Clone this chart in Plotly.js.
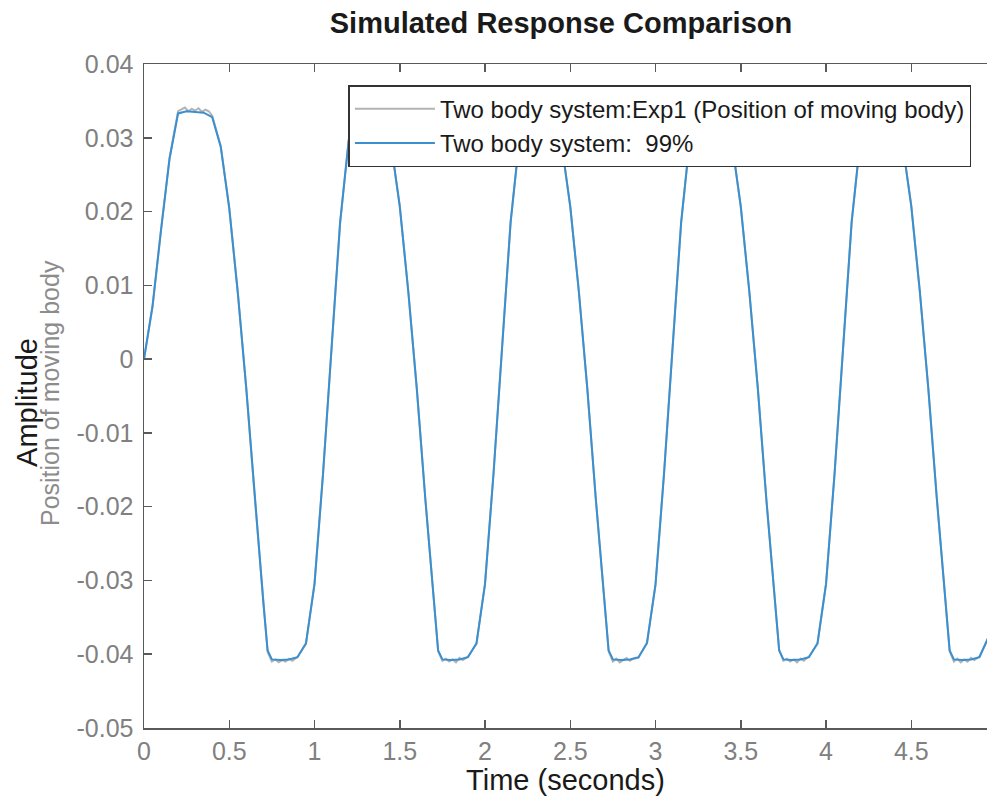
<!DOCTYPE html>
<html>
<head>
<meta charset="utf-8">
<script src="https://cdn.plot.ly/plotly-3.0.1.min.js"></script>
<style>html,body{margin:0;padding:0;background:#fff;}#chart{width:987px;height:800px;}</style>
</head>
<body>
<div id="chart"></div>
<script>
// Simulated model response (blue)
var tSim = [0,0.025,0.05,0.1,0.15,0.2,0.25,0.3,0.35,0.4,0.45,0.5,0.55,0.6,0.65,0.7,0.725,0.75,0.8,0.85,0.9,0.95,
  1.0,1.05,1.1,1.15,1.2,1.225,1.25,1.3,1.35,1.4,1.45,1.5,1.55,1.6,1.65,1.7,1.725,1.75,1.8,1.85,1.9,1.95,
  2.0,2.05,2.1,2.15,2.2,2.225,2.25,2.3,2.35,2.4,2.45,2.5,2.55,2.6,2.65,2.7,2.725,2.75,2.8,2.85,2.9,2.95,
  3.0,3.05,3.1,3.15,3.2,3.225,3.25,3.3,3.35,3.4,3.45,3.5,3.55,3.6,3.65,3.7,3.725,3.75,3.8,3.85,3.9,3.95,
  4.0,4.05,4.1,4.15,4.2,4.225,4.25,4.3,4.35,4.4,4.45,4.5,4.55,4.6,4.65,4.7,4.725,4.75,4.8,4.85,4.9,4.95];
var ySim = [0,0.0035,0.0072,0.0175,0.0272,0.0333,0.0336,0.0335,0.0334,0.0328,0.0288,0.0205,0.009,-0.004,-0.019,-0.033,-0.0395,-0.0407,-0.0408,-0.0407,-0.0404,-0.0385,
  -0.0305,-0.0155,0.0015,0.0185,0.0295,0.0328,0.0336,0.0337,0.0336,0.0330,0.0290,0.0207,0.0092,-0.0040,-0.0190,-0.0330,-0.0395,-0.0407,-0.0408,-0.0407,-0.0404,-0.0385,
  -0.0305,-0.0155,0.0015,0.0185,0.0295,0.0328,0.0336,0.0337,0.0336,0.0330,0.0290,0.0207,0.0092,-0.0040,-0.0190,-0.0330,-0.0395,-0.0407,-0.0408,-0.0407,-0.0404,-0.0385,
  -0.0305,-0.0155,0.0015,0.0185,0.0295,0.0328,0.0336,0.0337,0.0336,0.0330,0.0290,0.0207,0.0092,-0.0040,-0.0190,-0.0330,-0.0395,-0.0407,-0.0408,-0.0407,-0.0404,-0.0385,
  -0.0305,-0.0155,0.0015,0.0185,0.0295,0.0328,0.0336,0.0337,0.0336,0.0330,0.0290,0.0207,0.0092,-0.0040,-0.0190,-0.0330,-0.0395,-0.0407,-0.0408,-0.0407,-0.0404,-0.0378];

// Measured experiment data (gray), slightly noisy on the plateaus
var tMeas = [0,0.025,0.05,0.1,0.15,0.2,0.22,0.24,0.26,0.28,0.3,0.32,0.34,0.36,0.38,0.4,0.45,0.5,0.55,0.6,0.65,0.7,0.725,0.75,0.77,0.79,0.81,0.83,0.85,0.87,0.9,0.95,
  1.0,1.05,1.1,1.15,1.2,1.225,1.25,1.3,1.35,1.4,1.45,1.5,1.55,1.6,1.65,1.7,1.725,1.75,1.77,1.79,1.81,1.83,1.85,1.87,1.9,1.95,
  2.0,2.05,2.1,2.15,2.2,2.225,2.25,2.3,2.35,2.4,2.45,2.5,2.55,2.6,2.65,2.7,2.725,2.75,2.77,2.79,2.81,2.83,2.85,2.87,2.9,2.95,
  3.0,3.05,3.1,3.15,3.2,3.225,3.25,3.3,3.35,3.4,3.45,3.5,3.55,3.6,3.65,3.7,3.725,3.75,3.77,3.79,3.81,3.83,3.85,3.87,3.9,3.95,
  4.0,4.05,4.1,4.15,4.2,4.225,4.25,4.3,4.35,4.4,4.45,4.5,4.55,4.6,4.65,4.7,4.725,4.75,4.77,4.79,4.81,4.83,4.85,4.87,4.9,4.95];
var yMeas = [0,0.0034,0.0071,0.0176,0.0273,0.0336,0.0338,0.0341,0.0336,0.0339,0.0337,0.0340,0.0335,0.0338,0.0336,0.0330,0.0289,0.0204,0.0091,-0.0041,-0.0189,-0.0331,-0.0397,-0.0410,-0.0407,-0.0411,-0.0408,-0.0410,-0.0406,-0.0409,-0.0404,-0.0386,
  -0.0304,-0.0156,0.0016,0.0184,0.0296,0.0329,0.0338,0.0336,0.0339,0.0331,0.0289,0.0208,0.0091,-0.0041,-0.0189,-0.0331,-0.0396,-0.0409,-0.0406,-0.0410,-0.0407,-0.0411,-0.0405,-0.0408,-0.0403,-0.0386,
  -0.0304,-0.0154,0.0014,0.0186,0.0294,0.0329,0.0337,0.0339,0.0335,0.0331,0.0291,0.0206,0.0093,-0.0041,-0.0191,-0.0329,-0.0396,-0.0410,-0.0406,-0.0411,-0.0408,-0.0405,-0.0409,-0.0406,-0.0405,-0.0384,
  -0.0306,-0.0154,0.0016,0.0184,0.0296,0.0327,0.0338,0.0336,0.0338,0.0329,0.0291,0.0206,0.0091,-0.0039,-0.0191,-0.0331,-0.0394,-0.0409,-0.0406,-0.0410,-0.0407,-0.0411,-0.0406,-0.0409,-0.0403,-0.0386,
  -0.0304,-0.0156,0.0014,0.0186,0.0294,0.0329,0.0337,0.0339,0.0335,0.0331,0.0289,0.0208,0.0091,-0.0041,-0.0189,-0.0331,-0.0396,-0.0410,-0.0406,-0.0411,-0.0407,-0.0410,-0.0405,-0.0408,-0.0403,-0.0379];

var xTickVals = [0,0.5,1,1.5,2,2.5,3,3.5,4,4.5];
var xTickText = ['0','0.5','1','1.5','2','2.5','3','3.5','4','4.5'];
var yTickVals = [0.04,0.03,0.02,0.01,0,-0.01,-0.02,-0.03,-0.04,-0.05];
var yTickText = ['0.04','0.03','0.02','0.01','0','-0.01','-0.02','-0.03','-0.04','-0.05'];

var traceNames = ['Two body system:Exp1 (Position of moving body)', 'Two body system:  99%'];
var yTitleMain = 'Amplitude';
var yTitleSub = 'Position of moving body';

var FONT = 'Liberation Sans, Arial, Helvetica, sans-serif';
var AX = '#5a5a5a';

var data = [
  {x: tMeas, y: yMeas, type: 'scatter', mode: 'lines', name: traceNames[0],
   line: {color: '#b3b3b3', width: 2}},
  {x: tSim, y: ySim, type: 'scatter', mode: 'lines', name: traceNames[1],
   line: {color: '#3a8fd0', width: 2}}
];

var layout = {
  width: 987, height: 800,
  margin: {l: 144, r: 0, t: 64, b: 72},
  paper_bgcolor: '#fff', plot_bgcolor: '#fff',
  font: {family: FONT, color: '#808080'},
  title: {text: '<b>Simulated Response Comparison</b>', font: {family: FONT, size: 29, color: '#1a1a1a'},
          x: 0.5684, xanchor: 'center', y: 0.972, yanchor: 'middle'},
  xaxis: {range: [0, 4.944], tickvals: xTickVals, ticktext: xTickText,
          showline: true, linecolor: AX, linewidth: 1.5, mirror: 'ticks',
          ticks: 'inside', ticklen: 8, tickcolor: AX, tickwidth: 1.5,
          showgrid: false, zeroline: false,
          tickfont: {family: FONT, size: 25, color: '#808080'},
          title: {text: 'Time (seconds)', font: {family: FONT, size: 29, color: '#1a1a1a'}, standoff: 0}},
  yaxis: {range: [-0.05, 0.04], tickvals: yTickVals, ticktext: yTickText,
          showline: true, linecolor: AX, linewidth: 1.5, mirror: false,
          ticks: 'inside', ticklen: 8, tickcolor: AX, tickwidth: 1.5,
          showgrid: false, zeroline: false, ticklabelstandoff: 4,
          tickfont: {family: FONT, size: 25, color: '#808080'}},
  annotations: [
    {text: yTitleMain, xref: 'paper', yref: 'paper', x: -0.1388, y: 0.491, xanchor: 'center', yanchor: 'middle',
     textangle: -90, showarrow: false, font: {family: FONT, size: 29, color: '#1a1a1a'}},
    {text: yTitleSub, xref: 'paper', yref: 'paper', x: -0.1115, y: 0.5045, xanchor: 'center', yanchor: 'middle',
     textangle: -90, showarrow: false, font: {family: FONT, size: 25, color: '#8c8c8c'}}
  ],
  showlegend: true,
  legend: {x: 0.2425, y: 0.968, xanchor: 'left', yanchor: 'top',
           bgcolor: '#fff', bordercolor: '#333', borderwidth: 1.5,
           font: {family: FONT, size: 24, color: '#1a1a1a'},
           itemwidth: 80, tracegroupgap: 0}
};

Plotly.newPlot('chart', data, layout, {displayModeBar: false, staticPlot: true});
</script>
</body>
</html>
